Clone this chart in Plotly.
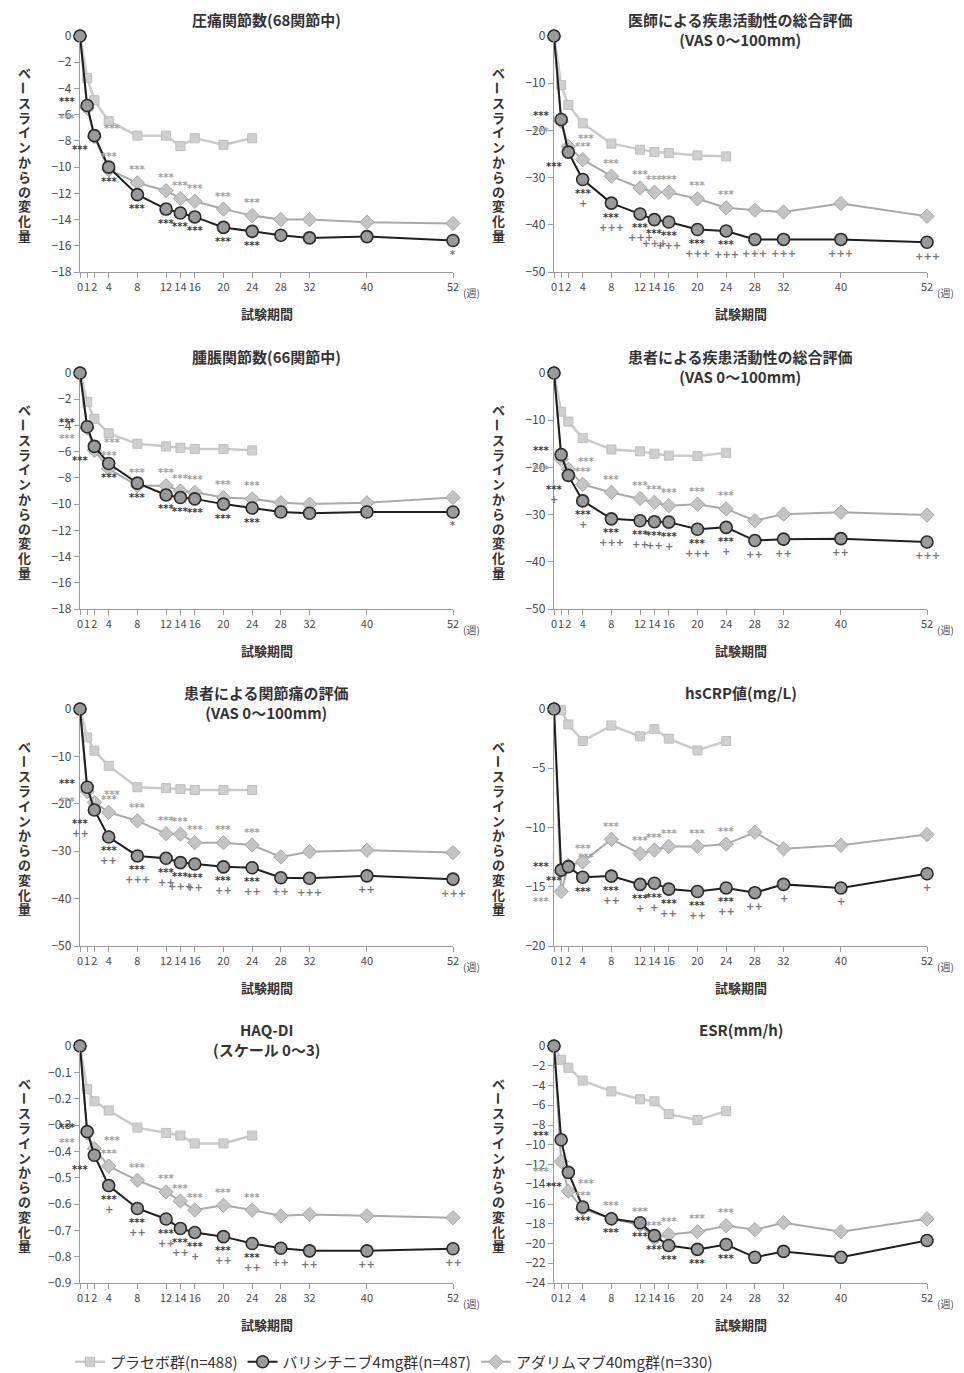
import plotly.graph_objects as go

# ---------------- data ----------------
weeks = [0, 1, 2, 4, 8, 12, 14, 16, 20, 24, 28, 32, 40, 52]
placebo_weeks = [0, 1, 2, 4, 8, 12, 14, 16, 20, 24]
week_labels = ["0", "1", "2", "4", "8", "12", "14", "16", "20", "24", "28", "32", "40", "52"]

series_names = ["プラセボ群(n=488)", "バリシチニブ4mg群(n=487)", "アダリムマブ40mg群(n=330)"]

titles = [
    "圧痛関節数(68関節中)",
    "医師による疾患活動性の総合評価<br>(VAS 0〜100mm)",
    "腫脹関節数(66関節中)",
    "患者による疾患活動性の総合評価<br>(VAS 0〜100mm)",
    "患者による関節痛の評価<br>(VAS 0〜100mm)",
    "hsCRP値(mg/L)",
    "HAQ-DI<br>(スケール 0〜3)",
    "ESR(mm/h)",
]

# 圧痛関節数
tjc_placebo = [0, -3.2, -4.9, -6.5, -7.6, -7.6, -8.4, -7.8, -8.3, -7.8]
tjc_bari = [0, -5.3, -7.6, -10.0, -12.1, -13.2, -13.5, -13.8, -14.6, -14.9, -15.2, -15.4, -15.3, -15.6]
tjc_ada = [0, -5.5, -7.7, -10.2, -11.2, -11.8, -12.4, -12.6, -13.2, -13.7, -14.0, -14.0, -14.2, -14.3]
# 医師による疾患活動性の総合評価
phga_placebo = [0, -10.4, -14.6, -18.5, -22.8, -24.1, -24.6, -24.8, -25.3, -25.5]
phga_bari = [0, -17.7, -24.6, -30.4, -35.4, -37.7, -38.9, -39.4, -41.0, -41.3, -43.1, -43.1, -43.1, -43.7]
phga_ada = [0, -18.1, -23.4, -26.2, -29.7, -32.2, -33.1, -33.1, -34.5, -36.4, -36.9, -37.3, -35.5, -38.2]
# 腫脹関節数
sjc_placebo = [0, -2.2, -3.5, -4.6, -5.4, -5.6, -5.7, -5.8, -5.8, -5.9]
sjc_bari = [0, -4.1, -5.6, -6.9, -8.4, -9.3, -9.5, -9.6, -10.0, -10.3, -10.6, -10.7, -10.6, -10.6]
sjc_ada = [0, -4.2, -5.9, -7.3, -8.6, -8.6, -9.0, -9.1, -9.5, -9.6, -9.9, -10.0, -9.9, -9.5]
# 患者による疾患活動性の総合評価
ptga_placebo = [0, -8.2, -10.3, -13.8, -16.2, -16.6, -17.1, -17.5, -17.6, -16.9]
ptga_bari = [0, -17.3, -21.7, -27.1, -30.9, -31.3, -31.5, -31.6, -33.1, -32.7, -35.5, -35.2, -35.1, -35.8]
ptga_ada = [0, -18.3, -20.4, -23.6, -25.3, -26.6, -27.4, -28.1, -27.8, -28.8, -31.3, -29.9, -29.5, -30.1]
# 患者による関節痛の評価
pain_placebo = [0, -6.0, -8.8, -12.0, -16.5, -16.7, -16.9, -17.1, -17.1, -17.1]
pain_bari = [0, -16.5, -21.3, -27.0, -31.0, -31.5, -32.4, -32.7, -33.3, -33.5, -35.6, -35.7, -35.2, -35.9]
pain_ada = [0, -17.4, -19.7, -21.8, -23.6, -26.3, -26.4, -28.2, -28.2, -28.7, -31.2, -30.1, -29.8, -30.3]
# hsCRP
crp_placebo = [0, -0.1, -1.3, -2.7, -1.4, -2.3, -1.7, -2.5, -3.5, -2.7]
crp_bari = [0, -13.6, -13.3, -14.2, -14.1, -14.8, -14.7, -15.2, -15.4, -15.1, -15.5, -14.8, -15.1, -13.9]
crp_ada = [0, -15.4, -13.2, -12.9, -11.0, -12.2, -11.9, -11.6, -11.6, -11.4, -10.4, -11.8, -11.5, -10.6]
# HAQ-DI
haq_placebo = [0, -0.164, -0.21, -0.245, -0.31, -0.33, -0.34, -0.37, -0.37, -0.34]
haq_bari = [0, -0.325, -0.415, -0.53, -0.617, -0.657, -0.693, -0.708, -0.724, -0.75, -0.768, -0.778, -0.778, -0.77]
haq_ada = [0, -0.33, -0.39, -0.456, -0.51, -0.554, -0.589, -0.623, -0.605, -0.623, -0.645, -0.64, -0.645, -0.652]
# ESR
esr_placebo = [0, -1.4, -2.2, -3.5, -4.6, -5.4, -5.6, -6.9, -7.5, -6.6]
esr_bari = [0, -9.5, -12.8, -16.3, -17.5, -17.9, -19.2, -20.2, -20.6, -20.1, -21.4, -20.8, -21.4, -19.7]
esr_ada = [0, -11.7, -14.7, -16.5, -17.5, -18.1, -19.5, -19.1, -18.8, -18.2, -18.6, -17.9, -18.8, -17.5]

# significance marks (vs placebo: ***, vs adalimumab: + / *)
star_sig = ["", "***", "***", "***", "***", "***", "***", "***", "***", "***", "", "", "", ""]
tjc_plus = ["", "", "", "", "", "", "", "", "", "", "", "", "", "*"]
phga_plus = ["", "", "", "+", "+++", "+++", "+++", "+++", "+++", "+++", "+++", "+++", "+++", "+++"]
sjc_plus = ["", "", "", "", "", "", "", "", "", "", "", "", "", "*"]
ptga_plus = ["", "", "+", "+", "+++", "++", "++", "+", "+++", "+", "++", "++", "++", "+++"]
pain_plus = ["", "", "++", "++", "+++", "++", "+++", "++", "++", "++", "++", "+++", "++", "+++"]
crp_plus = ["", "", "", "", "++", "+", "+", "++", "++", "++", "++", "+", "+", "+"]
haq_plus = ["", "", "", "+", "++", "++", "++", "+", "++", "++", "++", "++", "++", "++"]
esr_plus = ["", "", "", "", "", "", "", "", "", "", "", "", "", ""]

y_ranges = [(-18, 2), (-50, 10), (-18, 2), (-50, 10), (-50, 10), (-20, 5), (-0.9, 0.1), (-24, 2)]
y_tick_fmt = ["d", "d", "d", "d", "d", "d", ".1f", "d"]

panels = [
    (tjc_placebo, tjc_bari, tjc_ada, tjc_plus),
    (phga_placebo, phga_bari, phga_ada, phga_plus),
    (sjc_placebo, sjc_bari, sjc_ada, sjc_plus),
    (ptga_placebo, ptga_bari, ptga_ada, ptga_plus),
    (pain_placebo, pain_bari, pain_ada, pain_plus),
    (crp_placebo, crp_bari, crp_ada, crp_plus),
    (haq_placebo, haq_bari, haq_ada, haq_plus),
    (esr_placebo, esr_bari, esr_ada, esr_plus),
]

# ---------------- layout geometry (pixels) ----------------
W, H = 964, 1373
FONT = "Noto Sans CJK JP"
col_px = [(80, 453), (554, 927)]
row_px = [(36, 272), (373, 609), (709, 946), (1046, 1283)]

placebo_style = dict(line=dict(color="#cacaca", width=2.5),
                     marker=dict(symbol="square", size=9, color="#cfcfcf", line=dict(color="#bdbdbd", width=1)))
bari_style = dict(line=dict(color="#1e1e1e", width=2),
                  marker=dict(symbol="circle", size=12, color="#9a9a9a", line=dict(color="#2a2a2a", width=1.6)))
ada_style = dict(line=dict(color="#a9a9a9", width=2),
                 marker=dict(symbol="diamond", size=11, color="#c4c4c4", line=dict(color="#a5a5a5", width=1)))

fig = go.Figure()
annotations = []
ylabel_chars = "ベースラインからの変化量"

for i, (pl, ba, ad, plus) in enumerate(panels):
    r, c = divmod(i, 2)
    n = i + 1
    xa = "x" if n == 1 else f"x{n}"
    ya = "y" if n == 1 else f"y{n}"
    x0, x1 = col_px[c]
    y0, y1 = row_px[r]
    show = (i == 0)
    fig.add_trace(go.Scatter(x=placebo_weeks, y=pl, mode="lines+markers", name=series_names[0],
                             xaxis=xa, yaxis=ya, showlegend=show, legendrank=1, cliponaxis=False,
                             **placebo_style))
    fig.add_trace(go.Scatter(x=weeks, y=ad, mode="lines+markers", name=series_names[2],
                             xaxis=xa, yaxis=ya, showlegend=show, legendrank=3, cliponaxis=False,
                             **ada_style))
    fig.add_trace(go.Scatter(x=weeks, y=ba, mode="lines+markers", name=series_names[1],
                             xaxis=xa, yaxis=ya, showlegend=show, legendrank=2, cliponaxis=False,
                             **bari_style))

    lo, step = y_ranges[i]
    ticks = []
    v = 0.0
    while v >= lo - 1e-9:
        ticks.append(round(v, 3))
        v -= step
    ticktext = []
    for t in ticks:
        if y_tick_fmt[i] == ".1f":
            s = "0" if t == 0 else f"{t:.1f}"
        else:
            s = f"{int(round(t))}"
        ticktext.append(s.replace("-", "\u2212"))

    axis_common = dict(showline=True, linecolor="#9a9a9a", linewidth=1.4, ticks="outside",
                       tickcolor="#9a9a9a", ticklen=5, tickwidth=1.2, showgrid=False, zeroline=False,
                       automargin=False, tickangle=0)
    xkey = "xaxis" if n == 1 else f"xaxis{n}"
    ykey = "yaxis" if n == 1 else f"yaxis{n}"
    fig.update_layout(**{
        xkey: dict(domain=[x0 / W, x1 / W], anchor=ya, range=[0, 52], tickvals=weeks,
                   ticktext=week_labels, tickfont=dict(family=FONT, size=11, color="#4a4a4a"),
                   **axis_common),
        ykey: dict(domain=[1 - y1 / H, 1 - y0 / H], anchor=xa, range=[lo, 0], tickvals=ticks,
                   ticktext=ticktext, tickfont=dict(family=FONT, size=12, color="#4a4a4a"),
                   **axis_common),
    })

    cx = (x0 + x1) / 2
    # title
    annotations.append(dict(text=titles[i], x=cx / W, y=1 - (y0 - 29) / H, xref="paper", yref="paper",
                            xanchor="center", yanchor="top", showarrow=False,
                            font=dict(family=FONT, size=15, color="#333", weight="bold")))
    # x title
    annotations.append(dict(text="試験期間", x=cx / W, y=1 - (y1 + 41) / H, xref="paper", yref="paper",
                            xanchor="center", yanchor="middle", showarrow=False,
                            font=dict(family=FONT, size=13, color="#333", weight="bold")))
    # (週)
    annotations.append(dict(text="(週)", x=(x1 + 8) / W, y=1 - (y1 + 20) / H, xref="paper", yref="paper",
                            xanchor="left", yanchor="middle", showarrow=False,
                            font=dict(family=FONT, size=10, color="#4a4a4a")))
    # vertical y title (upright characters)
    ytx = 24 if c == 0 else 498
    ymid = (y0 + y1) / 2
    pitch = 14.8
    for k, ch in enumerate(ylabel_chars):
        yy = ymid + (k - (len(ylabel_chars) - 1) / 2) * pitch
        annotations.append(dict(text=ch, x=ytx / W, y=1 - yy / H, xref="paper", yref="paper",
                                xanchor="center", yanchor="middle", showarrow=False,
                                textangle=90 if ch == "ー" else 0,
                                font=dict(family=FONT, size=13, color="#333", weight="bold")))

    # significance marks
    sig_font_dark = dict(family="DejaVu Sans", size=10, color="#3a3a3a", weight="bold")
    sig_font_gray = dict(family="DejaVu Sans", size=10, color="#a0a0a0", weight="bold")
    plus_font = dict(family="DejaVu Sans", size=10, color="#777", weight="bold")
    for w, vb, va, s, p in zip(weeks, ba, ad, star_sig, plus):
        if s:
            if w == 1:
                bx, by, axs, ays = -20, 4, -20, -10
            elif w == 2:
                bx, by, axs, ays = -14, -14, 18, 8
            else:
                bx, by, axs, ays = 0, -14, 0, 13
            annotations.append(dict(text=s, x=w, y=vb, xref=xa, yref=ya, xshift=bx, yshift=by,
                                    showarrow=False, font=sig_font_dark))
            annotations.append(dict(text=s, x=w, y=va, xref=xa, yref=ya, xshift=axs, yshift=ays,
                                    showarrow=False, font=sig_font_gray))
        if p:
            py = -24 if s else -14
            px = -14 if w == 2 else 0
            annotations.append(dict(text=p, x=w, y=vb, xref=xa, yref=ya, xshift=px, yshift=py,
                                    showarrow=False, font=plus_font))

fig.update_layout(
    width=W, height=H,
    margin=dict(l=0, r=0, t=0, b=0, autoexpand=False),
    paper_bgcolor="white", plot_bgcolor="white",
    annotations=annotations,
    showlegend=True,
    legend=dict(orientation="h", x=70 / W, y=1 - 1362 / H, xanchor="left", yanchor="middle",
                font=dict(family=FONT, size=15, color="#333"), itemwidth=30,
                bgcolor="rgba(0,0,0,0)", traceorder="normal"),
    font=dict(family=FONT),
)

fig.write_html("out.html", config={"displayModeBar": False},
               post_script="document.body.style.margin='0';document.body.style.overflow='hidden';")
